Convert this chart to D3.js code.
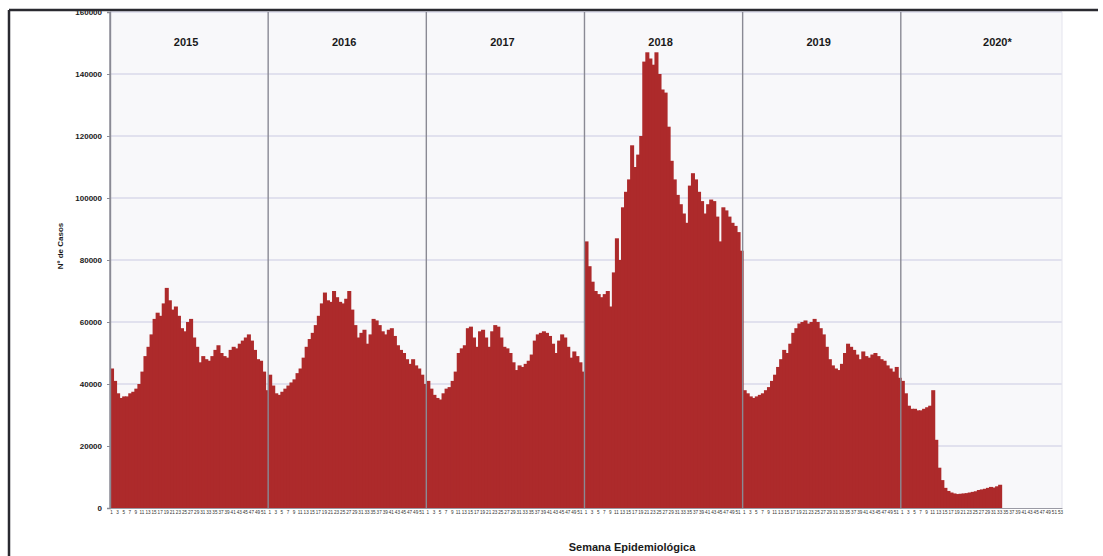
<!DOCTYPE html>
<html>
<head>
<meta charset="utf-8">
<script src="https://cdn.jsdelivr.net/npm/d3@7"></script>
<style>
  body { margin: 0; background: #ffffff; }
  svg text { font-family: Arial, "Liberation Sans", sans-serif; }
</style>
</head>
<body>
<div id="chart"></div>
<script>
var years = ["2015", "2016", "2017", "2018", "2019", "2020"];
var yearLabels = ["2015", "2016", "2017", "2018", "2019", "2020*"];
var weeksPerYear = [52, 52, 52, 52, 52, 53];
var yTicks = [0, 20000, 40000, 60000, 80000, 100000, 120000, 140000, 160000];

var cases2015 = [45000, 41000, 37000, 35500, 36000, 36000, 37000, 37500, 38500, 40000,
    44000, 49000, 52000, 56000, 61000, 63000, 62000, 66000, 71000, 67000,
    64000, 65000, 62000, 58000, 57000, 60000, 61000, 55000, 52000, 47000,
    49000, 48000, 47500, 49000, 51000, 52500, 50000, 49000, 48500, 51000,
    52000, 51500, 53000, 54000, 55000, 56000, 54000, 51000, 48000, 47500,
    44000, 38000];
var cases2016 = [43000, 39500, 37000, 36500, 37500, 38500, 39500, 40500, 41500, 43500,
    45000, 48500, 52000, 54500, 56500, 59000, 62000, 66000, 69500, 67000,
    66500, 70000, 68000, 66500, 66000, 67500, 70000, 64000, 59000, 55000,
    56500, 57500, 53000, 56000, 61000, 60500, 59000, 57000, 56000, 57500,
    58000, 55500, 52500, 51000, 50000, 48000, 46500, 48000, 46000, 45000,
    43000, 40000];
var cases2017 = [41000, 38500, 36500, 35500, 35000, 37000, 38500, 39000, 41000, 44000,
    50000, 51500, 52500, 58000, 58500, 55000, 52000, 57000, 57500, 55000,
    52000, 57000, 59000, 58500, 55000, 52000, 51500, 50000, 47000, 44500,
    46000, 45500, 46500, 47500, 49500, 54000, 56000, 56500, 57000, 56500,
    55500, 53000, 50000, 54000, 56000, 55000, 52000, 48500, 50500, 49000,
    47000, 44000];
var cases2018 = [86000, 78000, 73000, 70000, 69000, 68000, 69000, 70000, 65000, 76000,
    87000, 80000, 97000, 102000, 106000, 117000, 110000, 114000, 120000, 144000,
    147000, 145000, 143000, 147000, 140000, 135000, 134000, 123000, 112000, 106000,
    101000, 98000, 95000, 92000, 104000, 108000, 106000, 102000, 99000, 95000,
    98000, 99500, 99000, 94000, 86000, 97000, 96000, 94000, 92000, 91000,
    89000, 83000];
var cases2019 = [38000, 37000, 36000, 35500, 36000, 36500, 37000, 38000, 39000, 41000,
    43000, 45500, 48000, 51000, 50000, 53000, 56500, 58000, 59500, 60000,
    60500, 59500, 60000, 61000, 60000, 58000, 56000, 52000, 48000, 46000,
    45000, 44500, 46500, 50000, 53000, 52000, 51000, 49500, 48000, 50500,
    49000, 48500, 49500, 50000, 49000, 48000, 47500, 46000, 45000, 44000,
    45500, 42000];
var cases2020 = [41000, 37000, 33000, 32000, 32000, 31500, 31500, 32000, 32500, 33000,
    38000, 22000, 13000, 9000, 6500, 5500, 5000, 4700, 4500, 4600,
    4700, 4800, 5000, 5200, 5400, 5800, 6000, 6200, 6500, 6800,
    6600, 7000, 7500];

var casesByYear = [cases2015, cases2016, cases2017, cases2018, cases2019, cases2020];

// flat table: one row per epidemiological week
var weeks = [];
var rows = [];
years.forEach(function(yr, i) {
    for (var w = 1; w <= weeksPerYear[i]; w++) {
        var key = yr + "-" + w;
        weeks.push(key);
        if (w <= casesByYear[i].length) {
            rows.push({ key: key, year: yr, week: w, value: casesByYear[i][w - 1] });
        }
    }
});

var W = 1103, H = 556;
var plotLeft = 110, plotRight = 1062, plotTop = 12, plotBottom = 508;

var svg = d3.select("#chart").append("svg")
    .attr("width", W)
    .attr("height", H);

// plot background
svg.append("rect")
    .attr("x", plotLeft).attr("y", plotTop)
    .attr("width", plotRight - plotLeft).attr("height", plotBottom - plotTop)
    .attr("fill", "#f8f8fa");

var x = d3.scaleBand().domain(weeks).range([plotLeft, plotRight]).paddingInner(0).paddingOuter(0);
var y = d3.scaleLinear().domain([0, 160000]).range([plotBottom, plotTop]);

// horizontal grid
svg.append("g").selectAll("line")
    .data(yTicks.slice(1))
    .enter().append("line")
    .attr("x1", plotLeft).attr("x2", plotRight)
    .attr("y1", function(d) { return y(d); })
    .attr("y2", function(d) { return y(d); })
    .attr("stroke", "#dadaea")
    .attr("stroke-width", 1.3);

// bars (slightly overlapping so the weeks read as one solid mass)
svg.append("g").selectAll("rect")
    .data(rows)
    .enter().append("rect")
    .attr("x", function(d) { return x(d.key); })
    .attr("y", function(d) { return y(d.value); })
    .attr("width", x.bandwidth() + 1)
    .attr("height", function(d) { return plotBottom - y(d.value); })
    .attr("fill", "#ad2a2b");

// year separators
svg.append("g").selectAll("line")
    .data(years)
    .enter().append("line")
    .attr("x1", function(d) { return x(d + "-1"); })
    .attr("x2", function(d) { return x(d + "-1"); })
    .attr("y1", plotTop).attr("y2", plotBottom)
    .attr("stroke", "#8a8a94")
    .attr("stroke-width", 1.4);

svg.append("line")
    .attr("x1", plotRight).attr("x2", plotRight)
    .attr("y1", plotTop).attr("y2", plotBottom)
    .attr("stroke", "#e4e4ee")
    .attr("stroke-width", 1);

// year labels
svg.append("g").selectAll("text")
    .data(years)
    .enter().append("text")
    .attr("x", function(d, i) {
        var start = x(d + "-1");
        var end = start + weeksPerYear[i] * x.bandwidth();
        return (start + end) / 2 + (i === 5 ? 16 : -3);
    })
    .attr("y", 46)
    .attr("text-anchor", "middle")
    .attr("font-size", 11)
    .attr("font-weight", "bold")
    .attr("fill", "#1a1a1a")
    .text(function(d, i) { return yearLabels[i]; });

// y axis
var yAxis = svg.append("g")
    .attr("transform", "translate(" + plotLeft + ",0)")
    .call(d3.axisLeft(y).tickValues(yTicks).tickSize(3).tickPadding(5).tickFormat(d3.format("d")));
yAxis.select(".domain").attr("stroke", "#8a8a94").attr("stroke-width", 1.4);
yAxis.selectAll(".tick line").attr("stroke", "#8a8a94");
yAxis.selectAll("text")
    .attr("font-size", 8)
    .attr("font-weight", "bold")
    .attr("fill", "#1a1a1a");

// x axis
var xAxis = svg.append("g")
    .attr("transform", "translate(0," + plotBottom + ")")
    .call(d3.axisBottom(x)
        .tickValues(weeks.filter(function(k) { return +k.split("-")[1] % 2 === 1; }))
        .tickSize(0).tickPadding(3)
        .tickFormat(function(k) { return k.split("-")[1]; }));
xAxis.select(".domain").attr("stroke", "#9a9aa4").attr("stroke-width", 1);
xAxis.selectAll("text")
    .attr("font-size", 4.6)
    .attr("fill", "#333");

// axis titles
svg.append("text")
    .attr("transform", "translate(63,246) rotate(-90)")
    .attr("text-anchor", "middle")
    .attr("font-size", 8)
    .attr("font-weight", "bold")
    .attr("fill", "#1a1a1a")
    .text("Nº de Casos");

svg.append("text")
    .attr("x", 632).attr("y", 551)
    .attr("text-anchor", "middle")
    .attr("font-size", 11)
    .attr("font-weight", "bold")
    .attr("fill", "#1a1a1a")
    .text("Semana Epidemiológica");

// outer frame (left and top edges visible)
svg.append("line")
    .attr("x1", 9).attr("x2", 1098).attr("y1", 10).attr("y2", 10)
    .attr("stroke", "#2a2a30").attr("stroke-width", 2.5);
svg.append("line")
    .attr("x1", 9).attr("x2", 9).attr("y1", 10).attr("y2", H)
    .attr("stroke", "#2a2a30").attr("stroke-width", 2.5);
</script>
</body>
</html>
